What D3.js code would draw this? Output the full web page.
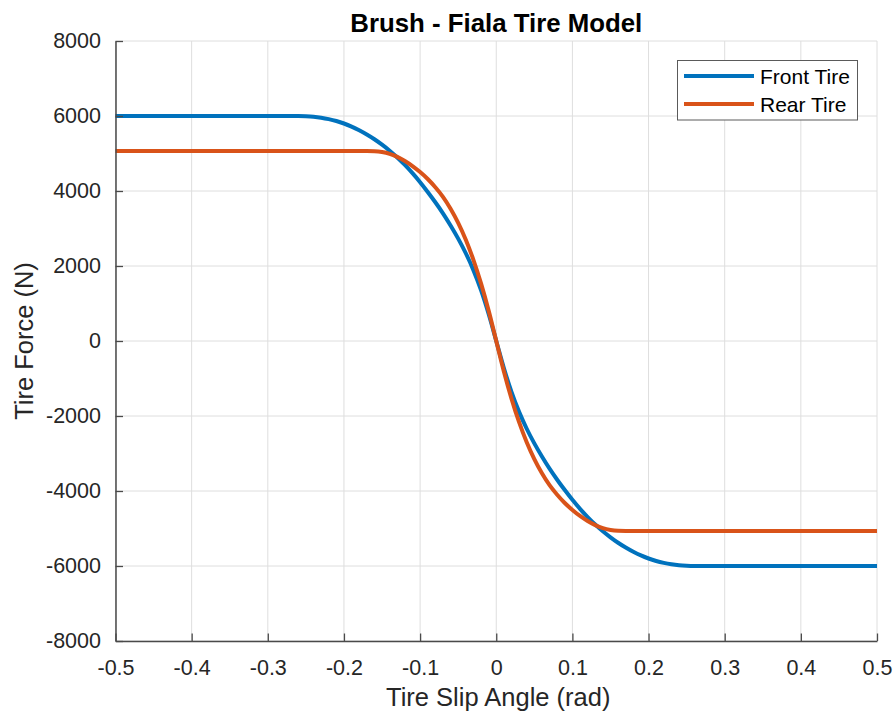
<!DOCTYPE html>
<html>
<head>
<meta charset="utf-8">
<script src="https://cdn.jsdelivr.net/npm/d3@7/dist/d3.min.js"></script>
<style>
  html, body { margin: 0; padding: 0; background: #ffffff; }
  svg { display: block; font-family: "Liberation Sans", Arial, Helvetica, sans-serif; }
</style>
</head>
<body>
<svg id="chart" width="895" height="715"></svg>
<script>
// Slip angle samples (rad)
const slipAngle = [
  -0.5, -0.4, -0.3,
  -0.27, -0.26, -0.25, -0.24, -0.23, -0.22, -0.21, -0.20, -0.19, -0.18,
  -0.17, -0.16, -0.15, -0.14, -0.13, -0.12, -0.11, -0.10, -0.09, -0.08,
  -0.07, -0.06, -0.05, -0.04, -0.03, -0.02, -0.01,
  0,
  0.01, 0.02, 0.03, 0.04, 0.05, 0.06, 0.07, 0.08, 0.09, 0.10,
  0.11, 0.12, 0.13, 0.14, 0.15, 0.16, 0.17, 0.18, 0.19, 0.20,
  0.21, 0.22, 0.23, 0.24, 0.25, 0.26, 0.27,
  0.3, 0.4, 0.5
];

// Lateral force of the front tire (N)
const frontForce = [
  6000, 6000, 6000,
  6000, 5999, 5993, 5980, 5955, 5917, 5866, 5800, 5718, 5620,
  5507, 5380, 5235, 5075, 4895, 4695, 4475, 4235, 3975, 3700,
  3405, 3080, 2730, 2340, 1890, 1355, 720,
  0,
  -720, -1355, -1890, -2340, -2730, -3080, -3405, -3700, -3975, -4235,
  -4475, -4695, -4895, -5075, -5235, -5380, -5507, -5620, -5718, -5800,
  -5866, -5917, -5955, -5980, -5993, -5999, -6000,
  -6000, -6000, -6000
];

// Lateral force of the rear tire (N)
const rearForce = [
  5065, 5065, 5065,
  5065, 5065, 5065, 5065, 5065, 5065, 5065, 5065, 5065, 5065,
  5065, 5061, 5040, 4992, 4910, 4800, 4665, 4505, 4320, 4100,
  3845, 3528, 3150, 2700, 2165, 1535, 810,
  0,
  -810, -1535, -2165, -2700, -3150, -3528, -3845, -4100, -4320, -4505,
  -4665, -4800, -4910, -4992, -5040, -5061, -5065, -5065, -5065, -5065,
  -5065, -5065, -5065, -5065, -5065, -5065, -5065,
  -5065, -5065, -5065
];

const seriesNames = ["Front Tire", "Rear Tire"];
const seriesColors = ["#0072BD", "#D95319"];

const xTicks = [-0.5, -0.4, -0.3, -0.2, -0.1, 0, 0.1, 0.2, 0.3, 0.4, 0.5];
const xTickLabels = ["-0.5", "-0.4", "-0.3", "-0.2", "-0.1", "0", "0.1", "0.2", "0.3", "0.4", "0.5"];
const yTicks = [-8000, -6000, -4000, -2000, 0, 2000, 4000, 6000, 8000];
const yTickLabels = ["-8000", "-6000", "-4000", "-2000", "0", "2000", "4000", "6000", "8000"];

const titleText = "Brush - Fiala Tire Model";
const xLabelText = "Tire Slip Angle (rad)";
const yLabelText = "Tire Force (N)";

// Layout
const plot = { left: 115.5, right: 877, top: 41, bottom: 641 };
const axisColor = "#262626";

const svg = d3.select("#chart");

const x = d3.scaleLinear().domain([-0.5, 0.5]).range([plot.left, plot.right]);
const y = d3.scaleLinear().domain([-8000, 8000]).range([plot.bottom, plot.top]);

// Grid
const grid = svg.append("g").attr("class", "grid")
  .attr("stroke", "#dedede").attr("stroke-width", 1);
grid.selectAll("line.gx").data(xTicks).join("line")
  .attr("class", "gx")
  .attr("x1", d => x(d)).attr("x2", d => x(d))
  .attr("y1", plot.top).attr("y2", plot.bottom);
grid.selectAll("line.gy").data(yTicks).join("line")
  .attr("class", "gy")
  .attr("x1", plot.left).attr("x2", plot.right)
  .attr("y1", d => y(d)).attr("y2", d => y(d));

// Curves
const series = [frontForce, rearForce];
const line = d3.line()
  .x((d, i) => x(slipAngle[i]))
  .y(d => y(d))
  .curve(d3.curveMonotoneX);

svg.append("g").attr("class", "curves")
  .selectAll("path").data(series).join("path")
  .attr("d", d => line(d))
  .attr("fill", "none")
  .attr("stroke", (d, i) => seriesColors[i])
  .attr("stroke-width", 4)
  .attr("stroke-linejoin", "round");

// Axes with inward ticks
const xAxis = d3.axisBottom(x)
  .tickValues(xTicks)
  .tickFormat((d, i) => xTickLabels[i])
  .tickSizeInner(-7.5).tickSizeOuter(0).tickPadding(19);
const yAxis = d3.axisLeft(y)
  .tickValues(yTicks)
  .tickFormat((d, i) => yTickLabels[i])
  .tickSizeInner(-7.5).tickSizeOuter(0).tickPadding(14.5);

function styleAxis(g) {
  g.attr("font-family", null).attr("font-size", null);
  g.select(".domain").attr("stroke", "#4a4a4a").attr("stroke-width", 1.5);
  g.selectAll(".tick line").attr("stroke", "#4a4a4a").attr("stroke-width", 1.3);
  g.selectAll(".tick text")
    .attr("fill", axisColor)
    .style("font-size", "21.5px");
}

svg.append("g")
  .attr("transform", `translate(0,${plot.bottom})`)
  .call(xAxis).call(styleAxis);
svg.append("g")
  .attr("transform", `translate(${plot.left},0)`)
  .call(yAxis).call(styleAxis);

// Title and axis labels
svg.append("text")
  .attr("x", (plot.left + plot.right) / 2).attr("y", 31.5)
  .attr("text-anchor", "middle")
  .attr("font-weight", "bold").attr("font-size", 25.8)
  .attr("fill", "#000000")
  .text(titleText);

svg.append("text")
  .attr("x", (plot.left + plot.right) / 2 + 2).attr("y", 706)
  .attr("text-anchor", "middle")
  .attr("font-size", 25.5).attr("fill", axisColor)
  .text(xLabelText);

svg.append("text")
  .attr("transform", `translate(33,${(plot.top + plot.bottom) / 2}) rotate(-90)`)
  .attr("text-anchor", "middle")
  .attr("font-size", 25.5).attr("fill", axisColor)
  .text(yLabelText);

// Legend
const legend = svg.append("g").attr("class", "legend");
legend.append("rect")
  .attr("x", 677.5).attr("y", 60.5).attr("width", 180).attr("height", 59.5)
  .attr("fill", "#ffffff").attr("stroke", "#5a5a5a").attr("stroke-width", 1);
const rowY = [76, 104];
const items = legend.selectAll("g.item").data(seriesNames).join("g").attr("class", "item");
items.append("line")
  .attr("x1", 684).attr("x2", 754)
  .attr("y1", (d, i) => rowY[i]).attr("y2", (d, i) => rowY[i])
  .attr("stroke", (d, i) => seriesColors[i]).attr("stroke-width", 4);
items.append("text")
  .attr("x", 760).attr("y", (d, i) => rowY[i] + 8.3)
  .attr("font-size", 21).attr("fill", "#000000")
  .text(d => d);
</script>
</body>
</html>
